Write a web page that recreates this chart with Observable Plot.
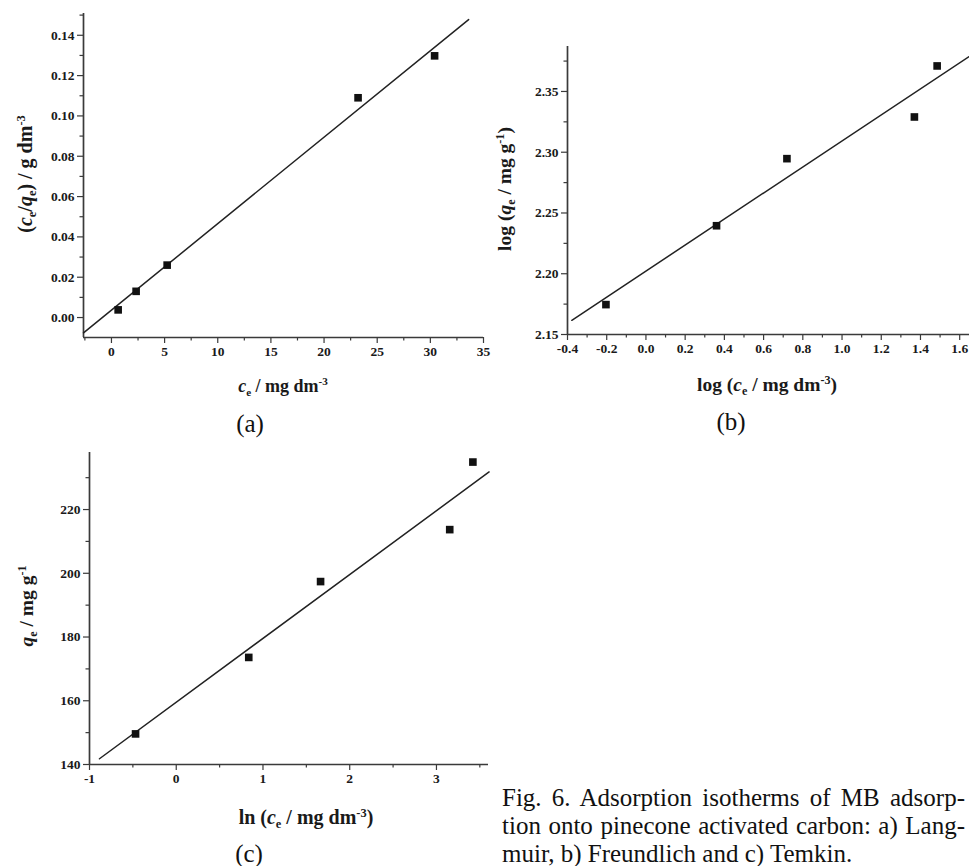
<!DOCTYPE html>
<html>
<head>
<meta charset="utf-8">
<script src="https://cdn.jsdelivr.net/npm/d3@7"></script>
<script src="https://cdn.jsdelivr.net/npm/@observablehq/plot@0.6"></script>
<style>
  html, body { margin: 0; padding: 0; background: #fff; }
  #root { position: relative; width: 969px; height: 866px; overflow: hidden; background: #fff; }
  #root svg { position: absolute; overflow: visible; }
  #root svg text { font-family: "Liberation Serif", "Times New Roman", serif !important; font-weight: bold; font-size: 13.5px; }
  .ttl { position: absolute; white-space: nowrap; font-family: "Liberation Serif", "Times New Roman", serif;
         font-weight: bold; font-size: 19px; color: #1a1a1a; line-height: 1; }
  .ttl sub, .ttl sup { font-size: 0.62em; line-height: 0; position: relative; vertical-align: baseline; }
  .ttl sub { top: 0.35em; }
  .ttl sup { top: -0.6em; }
  .plab { position: absolute; font-family: "Liberation Serif", "Times New Roman", serif; font-size: 25px;
          color: #111; transform: translate(-50%, -50%); line-height: 1; }
  .cap { position: absolute; left: 502px; width: 463px; font-family: "Liberation Serif", "Times New Roman", serif;
         font-size: 25px; line-height: 28px; color: #111; white-space: nowrap; }
  .cap.j { text-align: justify; text-align-last: justify; white-space: normal; }
</style>
</head>
<body>
<div id="root"></div>
<script>
// ---------- Panel (a): Langmuir ----------
const ceA    = [0.63, 2.32, 5.24, 23.2, 30.4];
const ratioA = [0.0038, 0.013, 0.026, 0.109, 0.1298];
const fitXA  = [-2.63, 33.6];
const fitYA  = [-0.0076, 0.1478];
const xTicksA = [0, 5, 10, 15, 20, 25, 30, 35];
const xMinorA = [-2.5, 2.5, 7.5, 12.5, 17.5, 22.5, 27.5, 32.5];
const yTicksA = [0, 0.02, 0.04, 0.06, 0.08, 0.10, 0.12, 0.14];
const yMinorA = [0.01, 0.03, 0.05, 0.07, 0.09, 0.11, 0.13, 0.15];

// ---------- Panel (b): Freundlich ----------
const logCeB = [-0.204, 0.36, 0.719, 1.369, 1.485];
const logQB  = [2.1746, 2.2395, 2.2947, 2.329, 2.371];
const fitXB  = [-0.378, 1.646];
const fitYB  = [2.1617, 2.3785];
const xTicksB = [-0.4, -0.2, 0, 0.2, 0.4, 0.6, 0.8, 1.0, 1.2, 1.4, 1.6];
const xMinorB = [-0.3, -0.1, 0.1, 0.3, 0.5, 0.7, 0.9, 1.1, 1.3, 1.5];
const yTicksB = [2.15, 2.20, 2.25, 2.30, 2.35];
const yMinorB = [2.175, 2.225, 2.275, 2.325, 2.375];

// ---------- Panel (c): Temkin ----------
const lnCeC = [-0.469, 0.836, 1.664, 3.153, 3.42];
const qeC   = [149.6, 173.6, 197.4, 213.7, 234.9];
const fitXC = [-0.885, 3.607];
const fitYC = [141.8, 231.8];
const xTicksC = [-1, 0, 1, 2, 3];
const xMinorC = [-0.5, 0.5, 1.5, 2.5, 3.5];
const yTicksC = [140, 160, 180, 200, 220];
const yMinorC = [150, 170, 190, 210, 230];

const zip = (xs, ys) => xs.map((x, i) => ({x, y: ys[i]}));

function panel(o) {
  const axisStroke = "#3a3a3a";
  const marks = [
    Plot.axisX({ticks: o.xt, tickSize: 6, tickPadding: 3, tickFormat: o.xf, label: null, stroke: axisStroke, strokeWidth: 1.2, fill: "#1a1a1a"}),
    Plot.axisX({ticks: o.xm, tickSize: 3.5, tickFormat: () => "", label: null, stroke: axisStroke, strokeWidth: 1.2}),
    Plot.axisY({ticks: o.yt, tickSize: 6, tickPadding: 3, tickFormat: o.yf, label: null, stroke: axisStroke, strokeWidth: 1.2, fill: "#1a1a1a"}),
    Plot.axisY({ticks: o.ym, tickSize: 3.5, tickFormat: () => "", label: null, stroke: axisStroke, strokeWidth: 1.2}),
    Plot.ruleX([o.xd[0]], {stroke: axisStroke, strokeWidth: 1.7}),
    Plot.ruleY([o.yd[0]], {stroke: axisStroke, strokeWidth: 1.7}),
    Plot.line(o.fit, {x: "x", y: "y", stroke: "#222", strokeWidth: 1.5}),
    Plot.dot(o.pts, {x: "x", y: "y", symbol: "square", fill: "#111", stroke: "none", r: 4.3})
  ];
  const svg = Plot.plot({
    width: o.w, height: o.h,
    marginLeft: o.ml, marginTop: o.mt, marginRight: o.mr, marginBottom: o.mb,
    x: {domain: o.xd},
    y: {domain: o.yd},
    style: {fontFamily: "Liberation Serif, serif", fontWeight: "bold", fontSize: "13.5px",
            color: "#1a1a1a", background: "transparent", overflow: "visible"},
    marks
  });
  svg.style.left = o.left + "px";
  svg.style.top = o.top + "px";
  return svg;
}

const root = document.getElementById("root");

root.appendChild(panel({
  left: 0, top: 0, w: 490, h: 370, ml: 83, mt: 13, mr: 7, mb: 33,
  xd: [-2.63, 35], yd: [-0.0099, 0.1508],
  xt: xTicksA, xm: xMinorA, yt: yTicksA, ym: yMinorA,
  xf: d => String(d), yf: d => d.toFixed(2),
  pts: zip(ceA, ratioA), fit: zip(fitXA, fitYA)
}));

root.appendChild(panel({
  left: 480, top: 0, w: 489, h: 370, ml: 87, mt: 46, mr: 0, mb: 36,
  xd: [-0.4, 1.65], yd: [2.15, 2.387],
  xt: xTicksB, xm: xMinorB, yt: yTicksB, ym: yMinorB,
  xf: d => d.toFixed(1), yf: d => d.toFixed(2),
  pts: zip(logCeB, logQB), fit: zip(fitXB, fitYB)
}));

root.appendChild(panel({
  left: 0, top: 420, w: 500, h: 380, ml: 89, mt: 32, mr: 12, mb: 36,
  xd: [-1, 3.6], yd: [140, 237.9],
  xt: xTicksC, xm: xMinorC, yt: yTicksC, ym: yMinorC,
  xf: d => String(d), yf: d => String(d),
  pts: zip(lnCeC, qeC), fit: zip(fitXC, fitYC)
}));

// Axis titles
function title(html, cx, cy, rot, size) {
  const d = document.createElement("div");
  d.className = "ttl";
  d.innerHTML = html;
  d.style.left = cx + "px";
  d.style.top = cy + "px";
  if (size) d.style.fontSize = size + "px";
  d.style.transform = "translate(-50%, -50%)" + (rot ? " rotate(-90deg)" : "");
  root.appendChild(d);
}
title("<i>c</i><sub>e</sub> / mg dm<sup>-3</sup>", 283, 386, false, 18);
title("(<i>c</i><sub>e</sub>/<i>q</i><sub>e</sub>) / g dm<sup>-3</sup>", 25, 174, true, 20);
title("log (<i>c</i><sub>e</sub> / mg dm<sup>-3</sup>)", 767, 385, false, 19.5);
title("log (<i>q</i><sub>e</sub> / mg g<sup>-1</sup>)", 505, 189, true, 19.5);
title("ln (<i>c</i><sub>e</sub> / mg dm<sup>-3</sup>)", 306, 817, false, 20);
title("<i>q</i><sub>e</sub> / mg g<sup>-1</sup>", 27, 606, true, 19.5);

// Panel labels
function plab(t, cx, cy) {
  const d = document.createElement("div");
  d.className = "plab";
  d.textContent = t;
  d.style.left = cx + "px";
  d.style.top = cy + "px";
  root.appendChild(d);
}
plab("(a)", 250, 423);
plab("(b)", 731, 421);
plab("(c)", 249, 853);

// Caption
const captionLines = [
  "Fig. 6. Adsorption isotherms of MB adsorp-",
  "tion onto pinecone activated carbon: a) Lang-",
  "muir, b) Freundlich and c) Temkin."
];
captionLines.forEach((t, i) => {
  const d = document.createElement("div");
  d.className = "cap" + (i < captionLines.length - 1 ? " j" : "");
  d.textContent = t;
  d.style.top = (784 + 28 * i) + "px";
  root.appendChild(d);
});
</script>
</body>
</html>
